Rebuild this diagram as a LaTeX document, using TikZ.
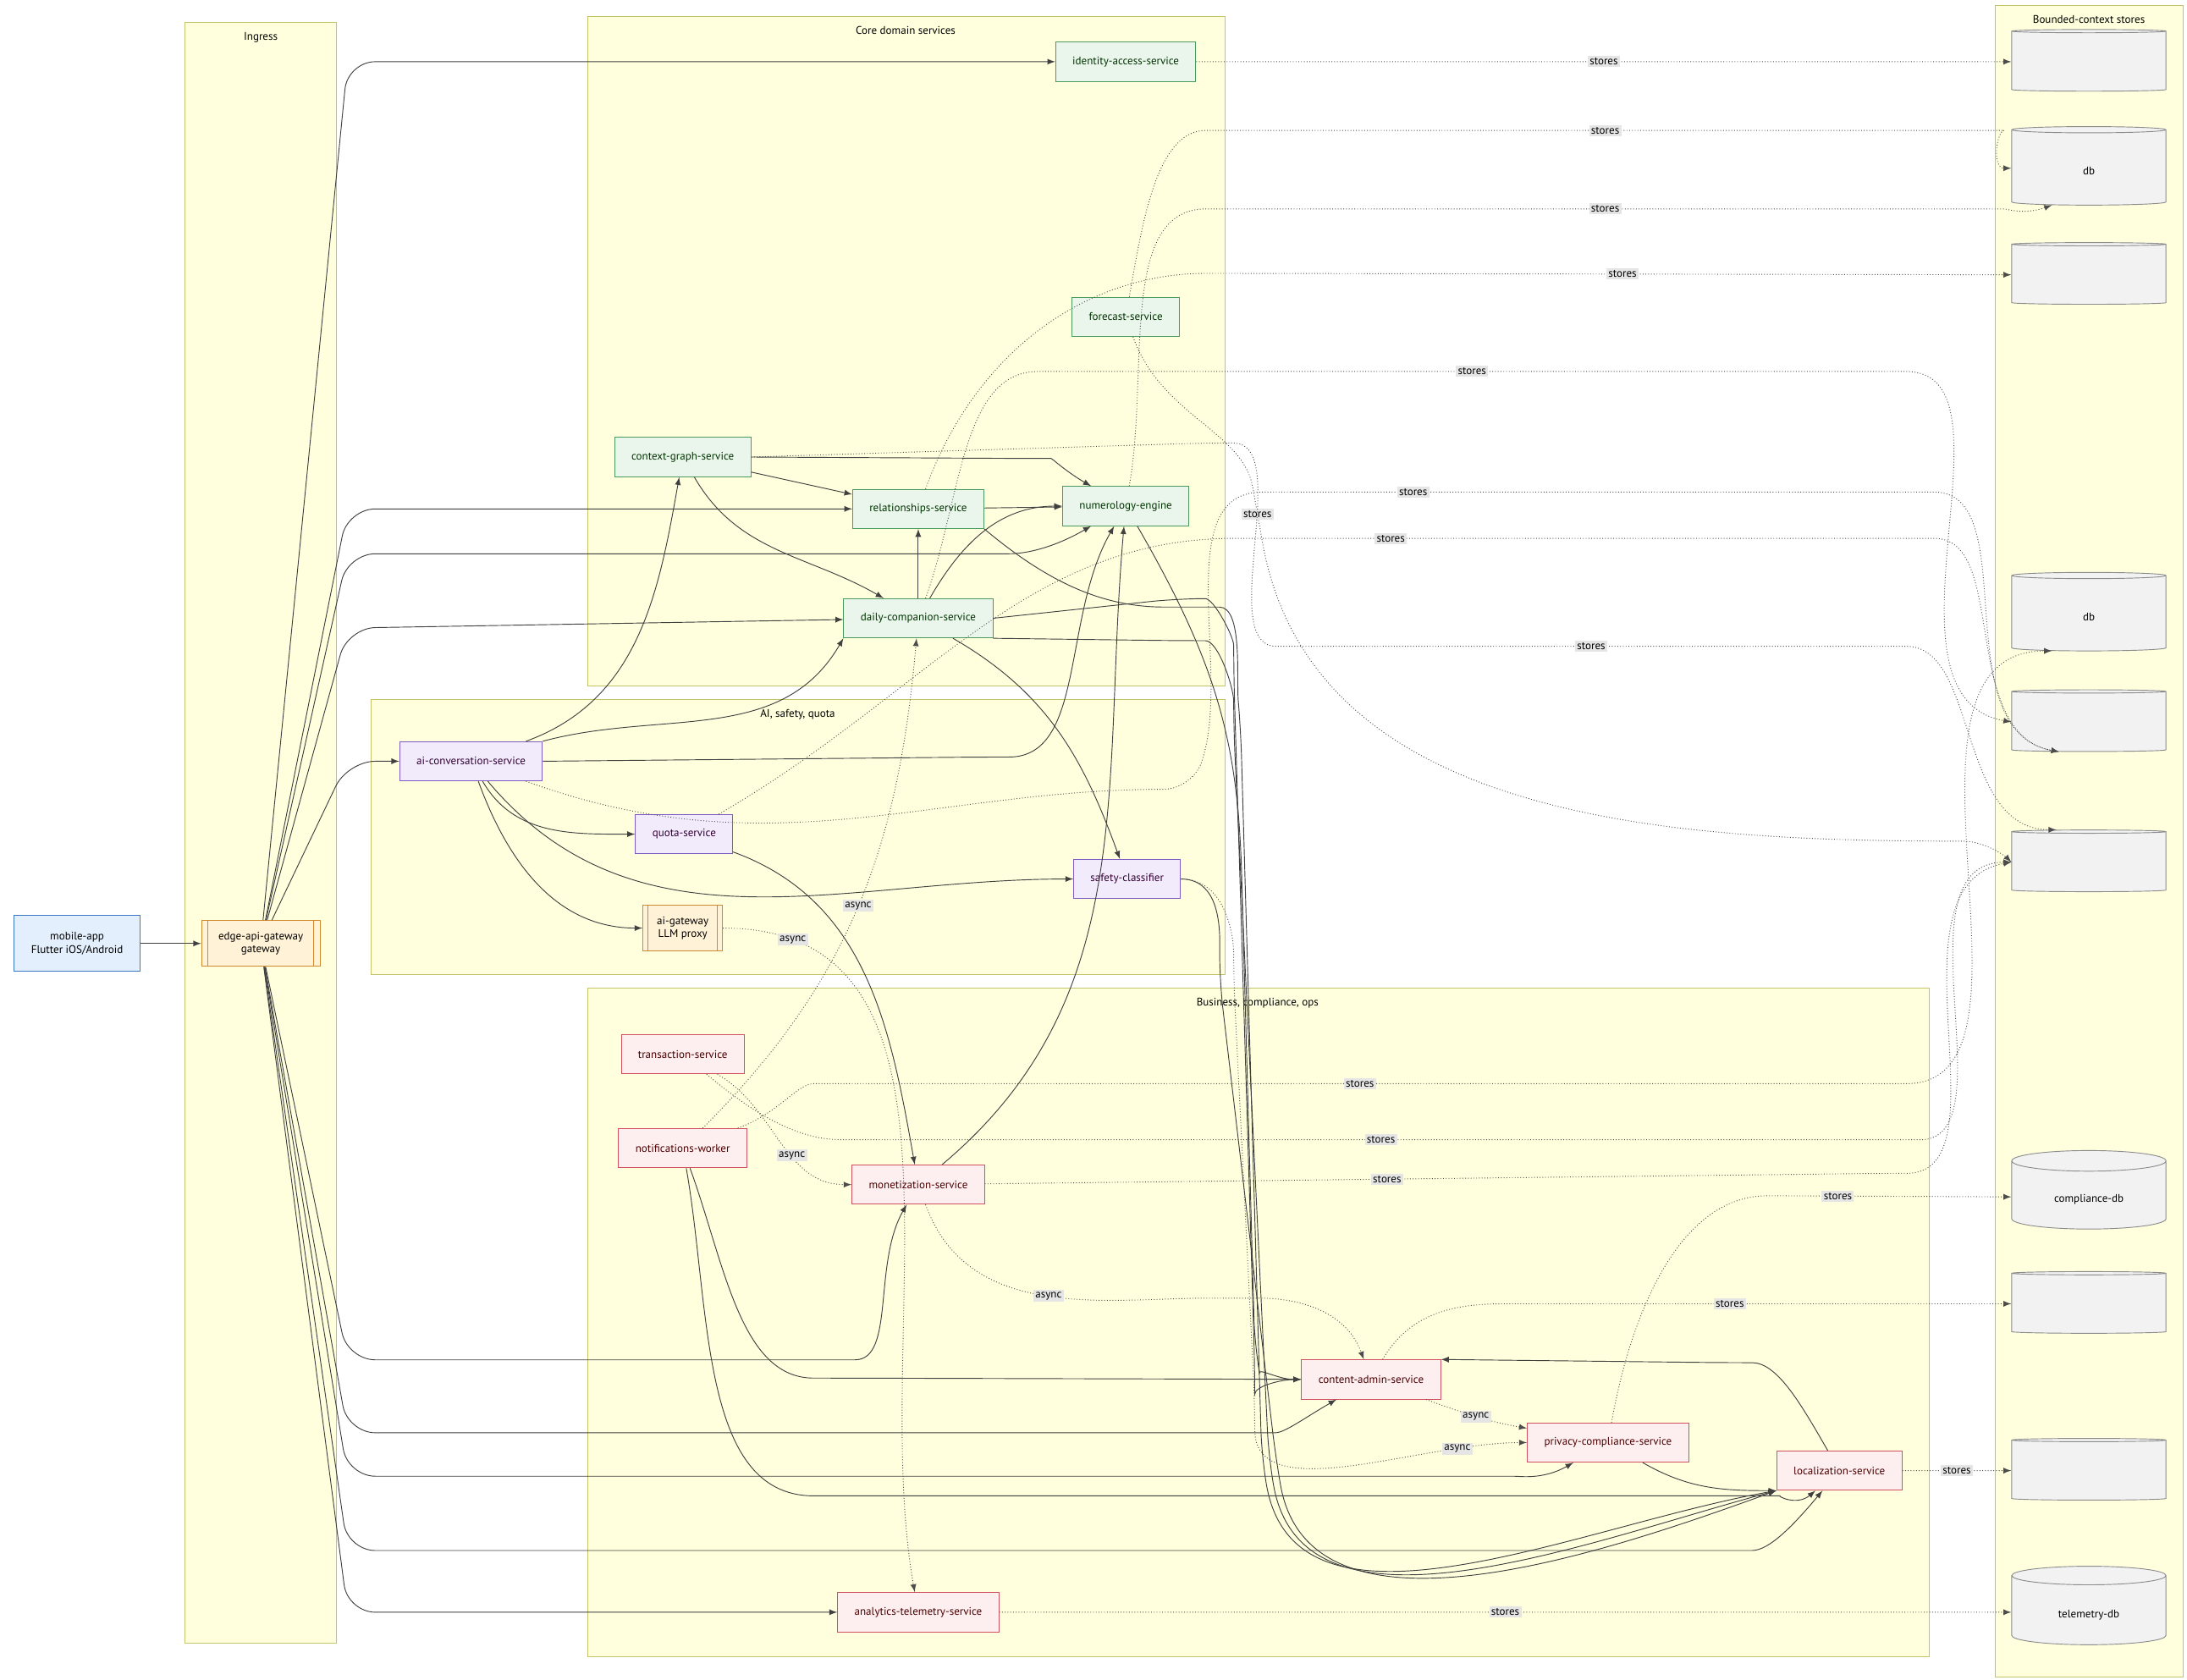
\documentclass[tikz,border=0pt]{standalone}
\usepackage{fontspec}
\setmainfont{PT Sans}
\usetikzlibrary{arrows}
\usetikzlibrary{shapes.geometric,shapes.misc}

\definecolor{clusterfill}{HTML}{FFFFDE}
\definecolor{clusterline}{HTML}{C3C36A}
\definecolor{corefill}{HTML}{EAF6EC}
\definecolor{coreline}{HTML}{4A9A5E}
\definecolor{aifill}{HTML}{F1EBFC}
\definecolor{ailine}{HTML}{7E5BC2}
\definecolor{bizfill}{HTML}{FDEEF0}
\definecolor{bizline}{HTML}{D0505F}
\definecolor{gwfill}{HTML}{FFF2D6}
\definecolor{gwline}{HTML}{D08A2E}
\definecolor{appfill}{HTML}{E3EFFC}
\definecolor{appline}{HTML}{3B78C4}

\tikzset{
    cluster/.style={draw=clusterline,fill=clusterfill},
    ctitle/.style={anchor=north,font=\fontsize{5.6}{6.6}\selectfont},
    box/.style={draw,rectangle,font=\fontsize{5.6}{6.6}\selectfont,minimum height=0.7cm,inner xsep=0.3cm,align=center},
    core/.style={box,fill=corefill,draw=coreline,text=black!80!green},
    ai/.style={box,fill=aifill,draw=ailine,text=black!60!violet},
    biz/.style={box,fill=bizfill,draw=bizline,text=black!70!red},
    store/.style={cylinder,shape border rotate=90,aspect=0.25,draw=black!45,fill=black!5,
        minimum width=2.75cm,minimum height=1.1cm,font=\fontsize{5.6}{6.6}\selectfont,align=center},
    call/.style={-latex,draw=black!75,thin,rounded corners=14},
    keep/.style={-latex,draw=black!70,densely dotted,thin,rounded corners=14},
    lbl/.style={fill=black!10,draw=none,solid,sharp corners,inner sep=1pt,font=\fontsize{5.6}{6.6}\selectfont},
}

\begin{document}
\begin{tikzpicture}[x=0.025cm,y=-0.025cm]
        \useasboundingbox[fill=white] (0,0) rectangle (1560,1198);

        % groups
        \draw[cluster] (132,16) rectangle (240,1172);
        \node[ctitle] at (186,18) {Ingress};
        \draw[cluster] (419,12) rectangle (874,489);
        \node[ctitle] at (646,14) {Core domain services};
        \draw[cluster] (265,499) rectangle (874,695);
        \node[ctitle] at (569,501) {AI, safety, quota};
        \draw[cluster] (419,705) rectangle (1376,1182);
        \node[ctitle] at (897,707) {Business, compliance, ops};
        \draw[cluster] (1423,4) rectangle (1557,1196);
        \node[ctitle] at (1490,6) {Bounded-context stores};

        % client and gateway
        \node[box,fill=appfill,draw=appline,minimum height=1cm] (app) at (55,673) {mobile-app\\Flutter iOS/Android};
        \node[box,fill=gwfill,draw=gwline,minimum height=0.82cm,minimum width=2.03cm] (edge) at (186,673) {edge-api-gateway\\gateway};
        \draw[gwline] ([xshift=0.12cm]edge.north west) -- ([xshift=0.12cm]edge.south west)
                      ([xshift=-0.12cm]edge.north east) -- ([xshift=-0.12cm]edge.south east);

        % core
        \node[core] (iam) at (803,44) {identity-access-service};
        \node[core] (fcast) at (803,226) {forecast-service};
        \node[core] (ctx) at (487,326) {context-graph-service};
        \node[core] (rel) at (655,363) {relationships-service};
        \node[core] (num) at (803,361) {numerology-engine};
        \node[core] (daily) at (655,441) {daily-companion-service};

        % ai
        \node[ai] (conv) at (336,543) {ai-conversation-service};
        \node[ai] (quota) at (488,595) {quota-service};
        \node[ai] (safety) at (804,627) {safety-classifier};
        \node[box,fill=gwfill,draw=gwline,minimum height=0.82cm,inner xsep=0.25cm] (llm) at (487,662) {ai-gateway\\LLM proxy};
        \draw[gwline] ([xshift=0.1cm]llm.north west) -- ([xshift=0.1cm]llm.south west)
                      ([xshift=-0.1cm]llm.north east) -- ([xshift=-0.1cm]llm.south east);

        % business
        \node[biz] (txn) at (487,752) {transaction-service};
        \node[biz] (notif) at (487,819) {notifications-worker};
        \node[biz] (money) at (655,845) {monetization-service};
        \node[biz] (cms) at (978,984) {content-admin-service};
        \node[biz] (priv) at (1147,1029) {privacy-compliance-service};
        \node[biz] (loc) at (1312,1049) {localization-service};
        \node[biz] (tele) at (655,1150) {analytics-telemetry-service};

        % stores
        \node[store] (dbA) at (1490,44) {\\};
        \node[store,minimum height=1.4cm] (dbB) at (1490,120) {\\db};
        \node[store] (dbC) at (1490,196) {\\};
        \node[store,minimum height=1.4cm] (dbD) at (1490,438) {\\db};
        \node[store] (dbE) at (1490,515) {\\};
        \node[store] (dbF) at (1490,615) {\\};
        \node[store,minimum height=1.4cm] (dbG) at (1490,854) {\\compliance-db};
        \node[store] (dbH) at (1490,930) {\\};
        \node[store] (dbI) at (1490,1049) {\\};
        \node[store,minimum height=1.4cm] (dbJ) at (1490,1150) {\\telemetry-db};

        % calls
        \draw[call] (app) -- (edge);
        \draw[call] (edge) -- (248,44) -- (iam);
        \draw[call] (edge) -- (248,363) -- (rel);
        \draw[call] (edge) -- (248,395) -- (700,395) to[out=0,in=-150] (num);
        \draw[call] (edge) -- (248,448) -- (daily);
        \draw[call] (edge) -- (248,543) -- (conv);
        \draw[call] (edge) -- (248,970) -- (590,970) to[out=0,in=-120] (money);
        \draw[call] (edge) -- (248,1022) -- (890,1022) to[out=0,in=-150] (cms);
        \draw[call] (edge) -- (248,1053) -- (1060,1053) to[out=0,in=-150] (priv);
        \draw[call] (edge) -- (248,1106) -- (1230,1106) to[out=0,in=-130] (loc);
        \draw[call] (edge) -- (248,1150) -- (tele);
        \draw[call] (ctx) -- (rel);
        \draw[call] (ctx.east) -- (730,327) to[out=0,in=150] (num);
        \draw[call] (ctx) to[out=-60,in=150] (daily);
        \draw[call] (rel) -- (num);
        \draw[call] (daily) -- (rel);
        \draw[call] (daily) to[out=60,in=180] (num.west);
        \draw[call] (daily) to[out=-30,in=110] (safety);
        \draw[call] (conv) to[out=20,in=-100] (ctx);
        \draw[call] (conv.north east) to[out=15,in=-120] (daily.south west);
        \draw[call] (conv.east) -- (700,540) to[out=0,in=-120] (num);
        \draw[call] (conv) to[out=-60,in=180] (quota);
        \draw[call] (conv) to[out=-50,in=180] (safety);
        \draw[call] (conv) to[out=-70,in=180] (llm);
        \draw[call] (quota) to[out=-20,in=100] (money);
        \draw[call] (money) to[out=40,in=-95] (num);
        \draw[call] (rel.south east) to[out=-40,in=180] (850,433) to[out=0,in=95] (885,520) -- (900,1040) to[out=-80,in=190] (loc.south west);
        \draw[call] (num) to[out=-60,in=95] (885,600) -- (895,960) to[out=-80,in=180] (cms.west);
        \draw[call] (daily.east) -- (840,427) to[out=0,in=90] (880,480) -- (895,975) to[out=-90,in=180] (cms.west);
        \draw[call] (daily.south east) -- (840,457) to[out=0,in=90] (880,520) -- (905,1040) to[out=-80,in=195] (loc.south west);
        \draw[call] (safety.east) to[out=0,in=90] (870,700) -- (910,1040) to[out=-80,in=200] (loc.south west);
        \draw[call] (notif) to[out=-70,in=180] (600,983) -- (cms);
        \draw[call] (notif) to[out=-80,in=180] (600,1067) -- (1250,1067) to[out=0,in=-140] (loc);
        \draw[call] (loc) to[out=120,in=0] (1230,972) -- (cms.north east);
        \draw[call] (priv) to[out=-30,in=180] (loc.south west);

        % async
        \draw[keep] (notif) to[out=45,in=-95] node[lbl,pos=0.5] {async} (daily);
        \draw[keep] (llm) to[out=0,in=100] node[lbl,pos=0.1] {async} (tele);
        \draw[keep] (txn) to[out=-30,in=180] node[lbl,pos=0.6] {async} (money);
        \draw[keep] (money) to[out=-70,in=180] node[lbl,pos=0.5] {async} (880,926) to[out=0,in=110] (cms);
        \draw[keep] (cms) to[out=-20,in=170] node[lbl] {async} (priv);
        \draw[keep] (safety.east) to[out=0,in=90] (880,700) -- (895,1000) to[out=-90,in=180] node[lbl,pos=0.8] {async} (priv.west);

        % stores
        \draw[keep] (iam) -- node[lbl] {stores} (dbA);
        \draw[keep] (fcast) to[out=80,in=180] (880,93) -- node[lbl] {stores} (1410,93) to[out=0,in=180] (dbB.west);
        \draw[keep] (num) to[out=80,in=180] (880,149) -- node[lbl] {stores} (1410,149) to[out=0,in=200] (dbB.south west);
        \draw[keep] (rel) to[out=70,in=180] (880,195) -- node[lbl] {stores} (dbC.west);
        \draw[keep] (daily) to[out=70,in=180] (760,265) -- node[lbl] {stores} (1340,265) to[out=0,in=170] (dbE.west);
        \draw[keep] (conv) to[out=-20,in=180] (850,563) to[out=70,in=180] (920,351) -- node[lbl,pos=0.2] {stores} (1360,351) to[out=0,in=170] (dbE.south west);
        \draw[keep] (quota) to[out=30,in=180] (900,384) -- node[lbl,pos=0.2] {stores} (1360,384) to[out=0,in=170] (dbE.south west);
        \draw[keep] (fcast) to[out=-70,in=100] (897,367) node[lbl] {stores} to[out=-80,in=180] (1420,600) -- (dbF.west);
        \draw[keep] (ctx.east) -- (860,316) to[out=0,in=180] (930,461) -- node[lbl] {stores} (1340,461) to[out=0,in=180] (dbF.north west);
        \draw[keep] (notif) to[out=20,in=180] (600,773) -- node[lbl] {stores} (1340,773) to[out=0,in=180] (dbD.south west);
        \draw[keep] (txn) to[out=-40,in=180] (620,813) -- node[lbl] {stores} (1350,813) to[out=0,in=180] (dbF.west);
        \draw[keep] (money) -- node[lbl,pos=0.45] {stores} (1340,837) to[out=0,in=190] (dbF.west);
        \draw[keep] (priv) to[out=80,in=180] (1280,853) -- node[lbl,pos=0.2] {stores} (dbG);
        \draw[keep] (cms) to[out=60,in=180] (1100,930) -- node[lbl,pos=0.4] {stores} (dbH);
        \draw[keep] (loc) -- node[lbl] {stores} (dbI);
        \draw[keep] (tele) -- node[lbl] {stores} (dbJ);
\end{tikzpicture}
\end{document}
